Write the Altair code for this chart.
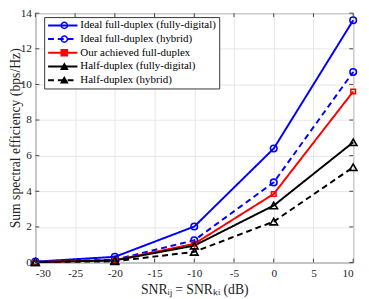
import altair as alt
import pandas as pd

x_vals = [-30, -20, -10, 0, 10]
series_names = [
    "Ideal full-duplex (fully-digital)",
    "Ideal full-duplex (hybrid)",
    "Our achieved full-duplex",
    "Half-duplex (fully-digital)",
    "Half-duplex (hybrid)",
]
ideal_fd_digital = [0.05, 0.32, 2.02, 6.4, 13.6]
ideal_fd_hybrid = [0.03, 0.16, 1.25, 4.5, 10.7]
our_fd = [0.03, 0.13, 1.05, 3.85, 9.6]
hd_digital = [0.02, 0.12, 0.95, 3.2, 6.75]
hd_hybrid = [0.02, 0.07, 0.6, 2.3, 5.35]
x_ticks = [-30, -25, -20, -15, -10, -5, 0, 5, 10]
y_ticks = [0, 2, 4, 6, 8, 10, 12, 14]

all_series = [ideal_fd_digital, ideal_fd_hybrid, our_fd, hd_digital, hd_hybrid]
rows = []
for i, (name, vals) in enumerate(zip(series_names, all_series)):
    for xv, yv in zip(x_vals, vals):
        rows.append({"snr": xv, "se": yv, "series": name, "series_b": name, "order": i})
df = pd.DataFrame(rows)

colors = ["#0000ff", "#0000ff", "#ff0000", "#000000", "#000000"]
dashes = [[1, 0], [6, 4], [1, 0], [1, 0], [6, 4]]
leg_shapes = ["circle", "circle", "square", "triangle-up", "triangle-up"]
leg_fills = ["transparent", "transparent", "#ff0000", "#000000", "#000000"]

W, H = 325, 255
FONT = "Liberation Serif"

xscale = alt.Scale(domain=[-30, 10], nice=False)
yscale = alt.Scale(domain=[0, 14], nice=False)
cscale = alt.Scale(domain=series_names, range=colors)

xaxis = alt.Axis(values=x_ticks, title="SNRᵢⱼ = SNRₖᵢ (dB)", labelPadding=5, titlePadding=4,
                 labelOverlap=False, labelExpr="'' + datum.value")
yaxis = alt.Axis(values=y_ticks, title="Sum spectral efficiency (bps/Hz)", labelPadding=4,
                 titleX=-27, titleBaseline="top", labelOverlap=False)


def X(field="snr:Q"):
    return alt.X(field, scale=xscale, axis=xaxis)


def Y(field="se:Q"):
    return alt.Y(field, scale=yscale, axis=yaxis)


common_leg = dict(title=None, orient="none", legendX=9, legendY=4, padding=3,
                  clipHeight=11, rowPadding=2, labelFont=FONT, labelFontSize=11.2)

legend_lines = alt.Legend(
    symbolType="stroke", symbolSize=900, symbolOffset=0, labelOffset=2,
    symbolStrokeWidth=2, strokeColor="#333333", fillColor="white",
    labelColor="black", zindex=0, **common_leg,
)
legend_marks = alt.Legend(
    symbolSize=40, symbolOffset=12, symbolStrokeWidth=1.5, symbolOpacity=1,
    labelExpr="''", labelOpacity=0, zindex=1, **common_leg,
)

base = alt.Chart(df)

lines = base.mark_line(strokeWidth=2).encode(
    x=X(), y=Y(),
    color=alt.Color("series:N", scale=cscale, legend=legend_lines),
    strokeDash=alt.StrokeDash("series:N", scale=alt.Scale(domain=series_names, range=dashes),
                              legend=legend_lines),
)


def marker_layer(names, shape, size):
    return base.transform_filter(
        alt.FieldOneOfPredicate(field="series", oneOf=names)
    ).mark_point(filled=False, strokeWidth=1.6, opacity=1, shape=shape, size=size).encode(
        x=X(), y=Y(),
        color=alt.Color("series:N", scale=cscale, legend=None),
    )


circles = marker_layer(series_names[0:2], "circle", 45)
squares = marker_layer(series_names[2:3], "square", 22)
triangles = marker_layer(series_names[3:5], "triangle-up", 60)

bsort = alt.EncodingSortField(field="order", op="min")
legend_layer = base.mark_point(filled=True, size=40, strokeWidth=1.5, opacity=0).encode(
    x=X(), y=Y(),
    shape=alt.Shape("series_b:N", sort=bsort, scale=alt.Scale(range=leg_shapes), legend=legend_marks),
    stroke=alt.Stroke("series_b:N", sort=bsort, scale=alt.Scale(range=colors), legend=legend_marks),
    fill=alt.Fill("series_b:N", sort=bsort, scale=alt.Scale(range=leg_fills), legend=legend_marks),
)

xt = pd.DataFrame({"t": x_ticks})
yt = pd.DataFrame({"t": y_ticks})
tick_style = dict(color="#444444", strokeWidth=1)
top_ticks = alt.Chart(xt).mark_rule(**tick_style).encode(
    x=X("t:Q"), y=alt.value(0), y2=alt.value(4))
bot_ticks = alt.Chart(xt).mark_rule(**tick_style).encode(
    x=X("t:Q"), y=alt.value(H), y2=alt.value(H - 4))
left_ticks = alt.Chart(yt).mark_rule(**tick_style).encode(
    y=Y("t:Q"), x=alt.value(0), x2=alt.value(4))
right_ticks = alt.Chart(yt).mark_rule(**tick_style).encode(
    y=Y("t:Q"), x=alt.value(W), x2=alt.value(W - 4))

chart = alt.layer(
    lines, circles, squares, triangles, legend_layer,
    top_ticks, bot_ticks, left_ticks, right_ticks,
).properties(
    width=W, height=H,
    autosize=alt.AutoSizeParams(type="none"),
    padding={"left": 28, "top": 2, "right": 8, "bottom": 34},
).configure_view(stroke="#444444", strokeWidth=1).configure_axis(
    grid=True, gridColor="#e6e6e6", domain=False, ticks=False,
    labelFont=FONT, labelFontSize=11.5, labelColor="#222222",
    titleFont=FONT, titleFontSize=14, titleFontWeight="normal", titleColor="#222222",
)

chart.save("out.html", embed_options={"renderer": "svg", "actions": False})
